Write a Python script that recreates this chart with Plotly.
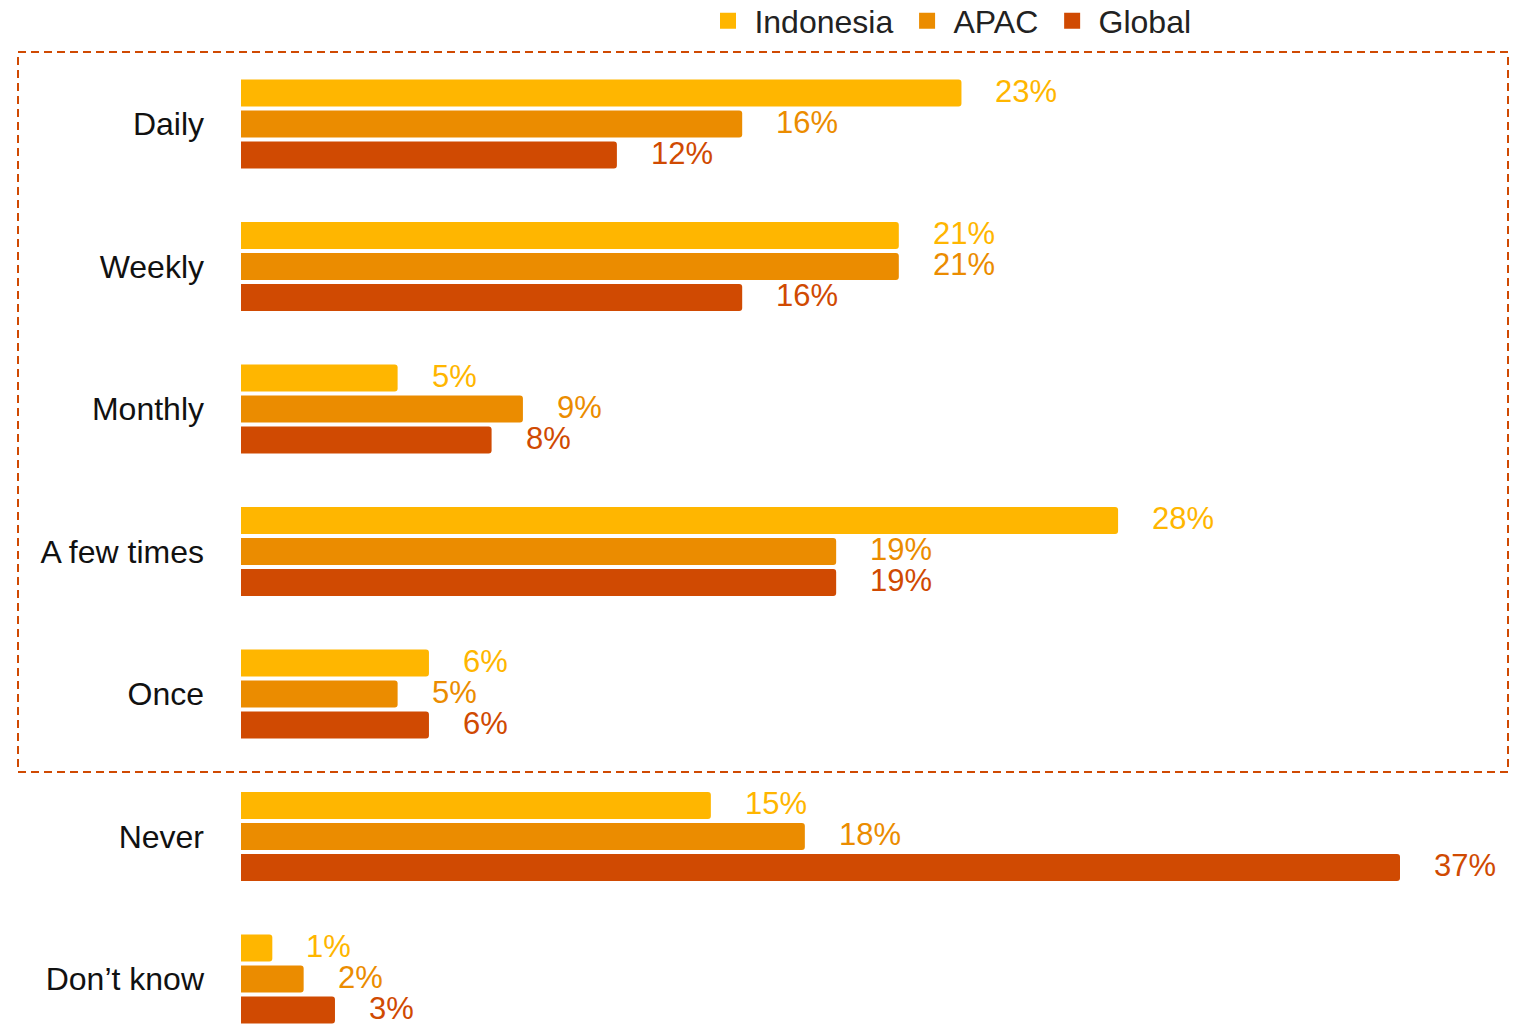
import plotly.graph_objects as go

# Survey frequency answers (share of respondents, %)
categories = ["Daily", "Weekly", "Monthly", "A few times", "Once", "Never", "Don\u2019t know"]
indonesia = [23, 21, 5, 28, 6, 15, 1]
apac = [16, 21, 9, 19, 5, 18, 2]
global_ = [12, 16, 8, 19, 6, 37, 3]

series_names = ["Indonesia", "APAC", "Global"]
series_values = [indonesia, apac, global_]
series_colors = ["#FFB600", "#EB8C00", "#D04A02"]

FONT = "Liberation Sans, Arial, sans-serif"
W, H = 1522, 1024
ML, MR, MT, MB = 241, 12, 40, 0
PLOT_W = W - ML - MR
PLOT_H = H - MT - MB

fig = go.Figure()

for name, vals, col in zip(series_names, series_values, series_colors):
    fig.add_trace(go.Bar(
        name=name, y=categories, x=vals, orientation="h",
        marker=dict(color=col, line=dict(width=0)),
        showlegend=False, hoverinfo="x+y",
    ))
    # legend entries with square swatches
    fig.add_trace(go.Scatter(
        name="\u2009" + name + "\u00a0", x=[None], y=[None], mode="markers",
        marker=dict(symbol="square", size=20, color=col),
        showlegend=True,
    ))

# value labels placed just past the end of each bar
offsets = [-31, 0, 31]
annotations = []
for vals, col, off in zip(series_values, series_colors, offsets):
    for cat, v in zip(categories, vals):
        annotations.append(dict(
            x=v, y=cat, xref="x", yref="y", text=f"{v}%",
            showarrow=False, xanchor="left", yanchor="middle",
            xshift=32, yshift=-off + 2,
            font=dict(family=FONT, size=31, color=col),
        ))

# dashed frame around the answers that indicate any usage
def px_to_paper_x(px):
    return (px - ML) / PLOT_W

def px_to_paper_y(py):
    return (H - MB - py) / PLOT_H

shapes = [dict(
    type="rect", xref="paper", yref="paper",
    x0=px_to_paper_x(18), x1=px_to_paper_x(1508),
    y0=px_to_paper_y(772), y1=px_to_paper_y(52),
    line=dict(color="#D04A02", width=2, dash="8px,5px"),
    fillcolor="rgba(0,0,0,0)", layer="below",
)]

x_max = 37 * PLOT_W / (1400 - ML)
slot = 142.5
y_top = (MT - 124) / slot
y_bot = (H - MB - 124) / slot

fig.update_layout(
    width=W, height=H,
    margin=dict(l=ML, r=MR, t=MT, b=MB, pad=0, autoexpand=False),
    paper_bgcolor="white", plot_bgcolor="white",
    barmode="group", bargap=0.347, bargroupgap=0.13,
    barcornerradius=3,
    font=dict(family=FONT, size=32, color="#111111"),
    xaxis=dict(range=[0, x_max], visible=False, fixedrange=True),
    yaxis=dict(
        range=[y_bot, y_top], showgrid=False, zeroline=False,
        showline=False, ticks="", ticklabelstandoff=36,
        tickfont=dict(family=FONT, size=32, color="#111111"),
    ),
    legend=dict(
        orientation="h", x=px_to_paper_x(708), xanchor="left",
        yref="container", y=1 - 21 / H, yanchor="middle",
        font=dict(family=FONT, size=32, color="#222222"),
        itemwidth=30, tracegroupgap=0, bgcolor="rgba(0,0,0,0)",
    ),
    annotations=annotations,
    shapes=shapes,
)

fig.write_html("out.html")
